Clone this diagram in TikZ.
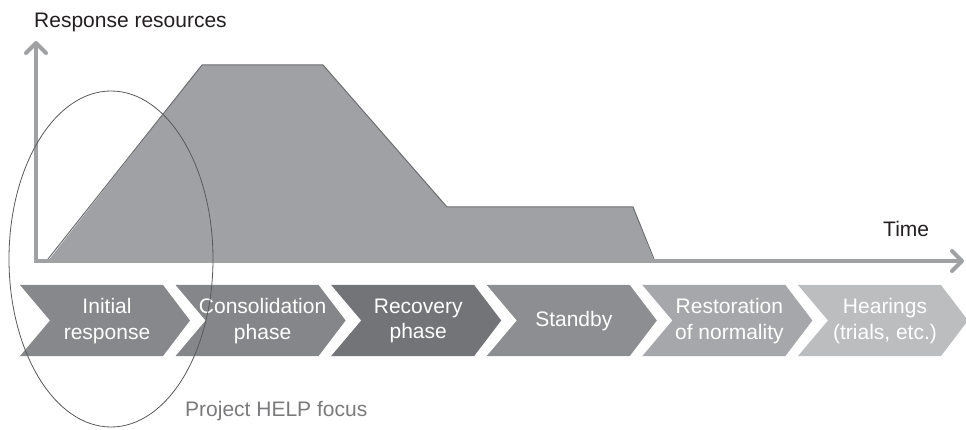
\documentclass[tikz,border=0pt]{standalone}
\usepackage{fontspec}
\setmainfont{Liberation Sans}
\usetikzlibrary{arrows.meta}
\definecolor{axisgray}{HTML}{A0A1A3}
\definecolor{areagray}{HTML}{A0A1A4}
\definecolor{edgegray}{HTML}{6D6E71}
\definecolor{labelgray}{HTML}{231F20}
\definecolor{notegray}{HTML}{7A7A7C}
\definecolor{ringgray}{HTML}{58595B}
\definecolor{chevA}{HTML}{87888B}
\definecolor{chevB}{HTML}{858689}
\definecolor{chevC}{HTML}{737477}
\definecolor{chevD}{HTML}{8D8E91}
\definecolor{chevE}{HTML}{A6A7AA}
\definecolor{chevF}{HTML}{BCBDBF}

\begin{document}
\begin{tikzpicture}[x = 1pt, y = -1pt, font = \fontsize{21}{25.5}\selectfont,
    axis/.style = {draw = axisgray, line width = 4pt, line join = miter,
        {Straight Barb[length = 10pt, width = 20pt, round]}-{Straight Barb[length = 10pt, width = 20pt, round]}},
    phase text/.style = {text = white, align = center, inner sep = 0pt}]
    \useasboundingbox (0, 0) rectangle (966, 430);
    % RESOURCES AREA
    \fill[areagray] (48, 261) -- (202, 65) -- (323, 65) -- (447, 207) -- (633, 207) -- (654, 261) -- cycle;
    \draw[edgegray, line width = 1pt] (48, 259) -- (202, 65) -- (323, 65) -- (447, 207) -- (633, 207) -- (654, 259);
    % AXES
    \coordinate (O) at (36, 261);
    \coordinate (YTOP) at (36, 41);
    \coordinate (XEND) at (964, 261);
    \draw[axis] (YTOP) -- (O) -- (XEND);
    \node[anchor = base west, inner sep = 0pt, text = labelgray] (ylabel) at (34, 28) {Response resources};
    \node[anchor = base west, inner sep = 0pt, text = labelgray] (xlabel) at (883, 237) {Time};
    % PHASES
    \foreach \i/\txt/\col in {0/{Initial\\response}/chevA, 1/{Consolidation\\phase}/chevB,
        2/{Recovery\\phase}/chevC, 3/{Standby}/chevD, 4/{Restoration\\of normality}/chevE,
        5/{Hearings\\(trials, etc.)}/chevF}
    {
        \pgfmathsetmacro{\L}{20 + 155.6*\i}
        \fill[\col] (\L, 285) -- ++(143, 0) -- ++(27, 35.5) -- ++(-27, 35.5) -- ++(-143, 0) -- ++(30, -35.5) -- cycle;
        \node[phase text] (ph\i) at (\L + 87, 321) {\txt};
    }
    % HELP FOCUS
    \draw[ringgray, line width = 0.8pt] (111, 259) ellipse [x radius = 102, y radius = 168];
    \node[anchor = base west, inner sep = 0pt, text = notegray] (focus) at (185, 416) {Project HELP focus};
\end{tikzpicture}
\end{document}
